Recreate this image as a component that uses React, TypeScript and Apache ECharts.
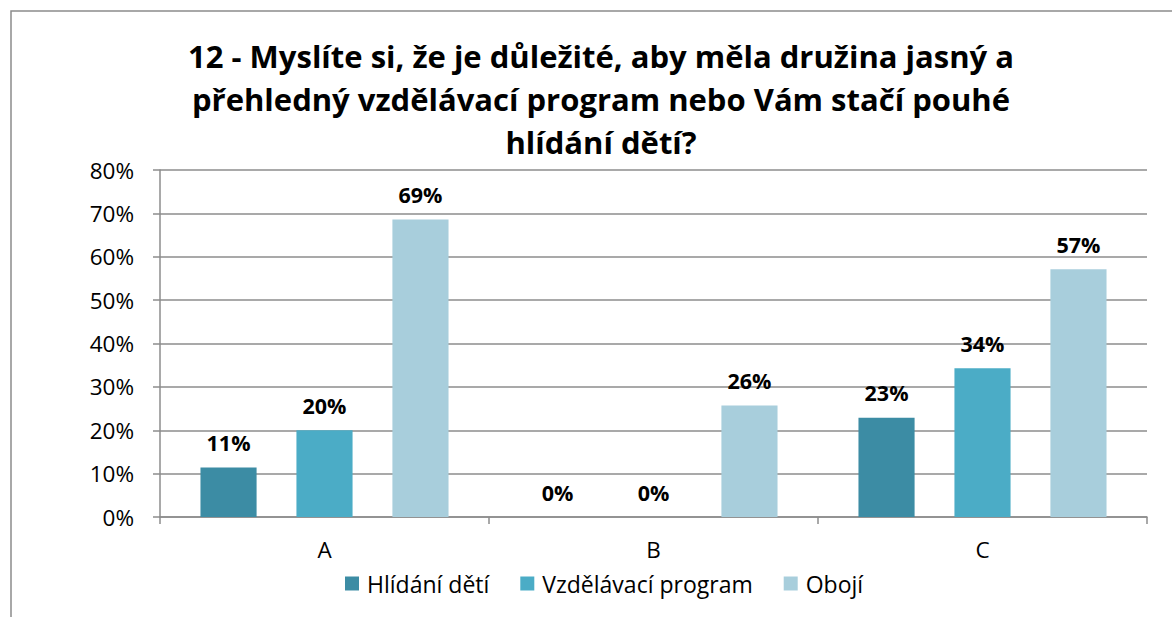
import React, { useEffect, useRef } from "react";
import * as echarts from "echarts";

const categories = ["A", "B", "C"];
const seriesNames = ["Hlídání dětí", "Vzdělávací program", "Obojí"];
const hlidani = [0.114, 0, 0.229];
const vzdelavaci = [0.2, 0, 0.343];
const oboji = [0.686, 0.257, 0.571];
const colors = ["#3C8CA4", "#4BACC6", "#A8CEDC"];
const titleText =
  "12 - Myslíte si, že je důležité, aby měla družina jasný a\npřehledný vzdělávací program nebo Vám stačí pouhé\nhlídání dětí?";

const FONT = "'Open Sans', sans-serif";

export default function App() {
  const ref = useRef<HTMLDivElement>(null);
  useEffect(() => {
    if (!ref.current) return;
    const chart = echarts.init(ref.current, undefined, { renderer: "svg" });
    const values = [hlidani, vzdelavaci, oboji];
    chart.setOption({
      animation: false,
      backgroundColor: "#ffffff",
      textStyle: { fontFamily: FONT },
      graphic: [
        {
          type: "rect",
          shape: { x: 11, y: 11, width: 1300, height: 800 },
          style: { fill: "none", stroke: "#8C8C8C", lineWidth: 1.5 },
          silent: true,
          z: -1,
        },
      ],
      title: {
        text: titleText,
        left: 596,
        top: 29,
        textAlign: "center",
        textStyle: {
          fontFamily: FONT,
          fontSize: 31,
          fontWeight: "bold",
          color: "#000",
          lineHeight: 43,
        },
      },
      legend: {
        data: seriesNames,
        top: 567,
        left: 340,
        itemWidth: 14,
        itemHeight: 14,
        itemGap: 31,
        icon: "rect",
        textStyle: { fontFamily: FONT, fontSize: 23, color: "#000", padding: [0, 0, 0, 3] },
      },
      grid: { left: 160, right: 25, top: 170, bottom: 100 },
      xAxis: {
        type: "category",
        data: categories,
        axisLine: { lineStyle: { color: "#8C8C8C", width: 1.5 } },
        axisTick: { show: true, length: 7, lineStyle: { color: "#8C8C8C", width: 1.5 } },
        axisLabel: { fontFamily: FONT, fontSize: 22.5, color: "#000", margin: 21 },
      },
      yAxis: {
        type: "value",
        min: 0,
        max: 0.8,
        interval: 0.1,
        axisLine: { show: true, lineStyle: { color: "#8C8C8C", width: 1.5 } },
        axisTick: { show: true, length: 7, lineStyle: { color: "#8C8C8C", width: 1.5 } },
        splitLine: { lineStyle: { color: "#8C8C8C", width: 1.5 } },
        axisLabel: {
          fontFamily: FONT,
          fontSize: 22.5,
          color: "#000",
          margin: 26,
          formatter: (v: number) => Math.round(v * 100) + "%",
        },
      },
      series: seriesNames.map((name, i) => ({
        name,
        type: "bar",
        data: values[i],
        barGap: "71%",
        barCategoryGap: "24.6%",
        itemStyle: { color: colors[i] },
        label: {
          show: true,
          position: "top",
          distance: 14,
          fontFamily: FONT,
          fontSize: 21.5,
          fontWeight: "bold",
          color: "#000",
          formatter: (p: any) => Math.round(p.value * 100) + "%",
        },
      })),
    });
    return () => chart.dispose();
  }, []);
  return (
    <div
      ref={ref}
      style={{ position: "fixed", left: 0, top: 0, width: 1172, height: 617 }}
    />
  );
}
